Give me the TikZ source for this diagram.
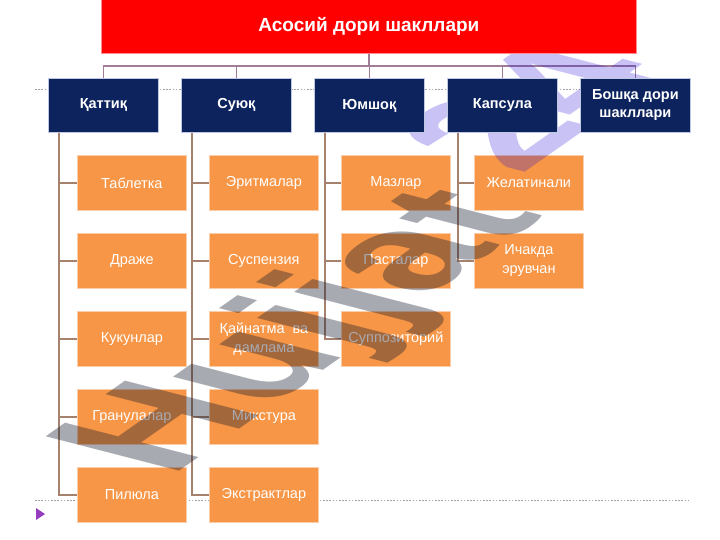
\documentclass[tikz,border=0pt]{standalone}
\usepackage{fontspec}
\setmainfont{Liberation Sans}
\usetikzlibrary{backgrounds}
\pgfdeclarelayer{wmlayer}
\pgfdeclarelayer{front}
\pgfsetlayers{background,main,wmlayer,front}
\definecolor{titlered}{RGB}{255,0,0}
\definecolor{navybox}{RGB}{12,35,94}
\definecolor{navyedge}{RGB}{190,200,225}
\definecolor{orngbox}{RGB}{247,150,70}
\definecolor{orngedge}{RGB}{252,205,170}
\definecolor{mauveline}{RGB}{160,125,150}
\definecolor{brownline}{RGB}{165,130,110}
\definecolor{dotgray}{RGB}{160,160,170}
\definecolor{tripurple}{RGB}{150,60,190}
\definecolor{wmgray}{RGB}{20,25,45}
\definecolor{wmlav}{RGB}{35,11,215}
\begin{document}
\begin{tikzpicture}[x=1pt,y=-1pt,
  titlebox/.style={fill=titlered, draw=red!45, line width=0.8pt, text=white,
    font=\bfseries\fontsize{19}{22}\selectfont, minimum width=535pt, minimum height=54pt,
    inner sep=0pt, anchor=north west},
  catbox/.style={fill=navybox, draw=navyedge, line width=0.8pt, text=white,
    font=\bfseries\fontsize{14.5}{18}\selectfont, align=center, minimum width=110pt,
    minimum height=54pt, inner sep=0pt, anchor=north west},
  itembox/.style={fill=orngbox, draw=orngedge, line width=0.8pt, text=white,
    font=\fontsize{14.5}{19}\selectfont, align=center, minimum width=109pt,
    minimum height=55pt, inner sep=0pt, anchor=north west},
  conn/.style={draw=mauveline, line width=1.6pt},
  trunk/.style={draw=brownline, line width=1.6pt},
  dotline/.style={draw=dotgray, line width=0.7pt, dash pattern=on 1.6pt off 1.6pt},
  wmark/.style={font=\bfseries\fontsize{100}{100}\selectfont, inner sep=0pt, anchor=base west,
    cm={1.351,0.947,-1.94,0.5,(0,0)}}
]
\useasboundingbox (0,0) rectangle (720,540);

\begin{pgfonlayer}{front}
% title
\node[titlebox] (title) at (101,-1) {Асосий дори шакллари};
% categories
\node[catbox] (c1) at (48,78)  {Қаттиқ};
\node[catbox] (c2) at (181,78) {Суюқ};
\node[catbox] (c3) at (314,78) {Юмшоқ};
\node[catbox] (c4) at (447,78) {Капсула};
\node[catbox] (c5) at (580,78) {Бошқа дори\\шакллари};
\end{pgfonlayer}

% items column 1
\node[itembox] (i11) at (77,155) {Таблетка};
\node[itembox] (i12) at (77,233) {Драже};
\node[itembox] (i13) at (77,311) {Кукунлар};
\node[itembox] (i14) at (77,389) {Гранулалар};
\node[itembox] (i15) at (77,467) {Пилюла};
% column 2
\node[itembox] (i21) at (209,155) {Эритмалар};
\node[itembox] (i22) at (209,233) {Суспензия};
\node[itembox] (i23) at (209,311) {Қайнатма\ \ ва\\дамлама};
\node[itembox] (i24) at (209,389) {Микстура};
\node[itembox] (i25) at (209,467) {Экстрактлар};
% column 3
\node[itembox] (i31) at (341,155) {Мазлар};
\node[itembox] (i32) at (341,233) {Пасталар};
\node[itembox] (i33) at (341,311) {Суппозиторий};
% column 4
\node[itembox] (i41) at (474,155) {Желатинали};
\node[itembox] (i42) at (474,233) {Ичакда\\эрувчан};

\begin{scope}[on background layer]
  % dotted guide lines
  \coordinate (dl1) at (35,89);  \coordinate (dr1) at (688,89);
  \coordinate (dl2) at (35,500); \coordinate (dr2) at (688,500);
  \draw[dotline] (dl1) -- (dr1);
  \draw[dotline] (dl2) -- (dr2);
  % top connectors
  \coordinate (hb) at (0,66);
  \draw[conn] (title.south) -- (title.south |- hb);
  \draw[conn] (c1.north) -- (c1.north |- hb) -- (c5.north |- hb) -- (c5.north);
  \foreach \c in {c2,c3,c4} \draw[conn] (\c.north) -- (\c.north |- hb);
  % trunks
  \coordinate (t1) at ([xshift=11pt]c1.south west);
  \coordinate (t2) at ([xshift=11pt]c2.south west);
  \coordinate (t3) at ([xshift=11pt]c3.south west);
  \coordinate (t4) at ([xshift=11pt]c4.south west);
  \draw[trunk] (t1) |- (i15.west);
  \foreach \i in {i11,i12,i13,i14} \draw[trunk] (t1 |- \i.west) -- (\i.west);
  \draw[trunk] (t2) |- (i25.west);
  \foreach \i in {i21,i22,i23,i24} \draw[trunk] (t2 |- \i.west) -- (\i.west);
  \draw[trunk] (t3) |- (i33.west);
  \foreach \i in {i31,i32} \draw[trunk] (t3 |- \i.west) -- (\i.west);
  \draw[trunk] (t4) |- (i42.west);
  \draw[trunk] (t4 |- i41.west) -- (i41.west);
\end{scope}

% small marker triangle
\fill[tripurple] (36,508) -- (45,514) -- (36,520) -- cycle;

% watermark
\begin{pgfonlayer}{wmlayer}
  \node[wmark, text=wmgray, text opacity=0.37] (wm1) at (170,478) {Hujjat};
  \node[wmark, text=wmlav, text opacity=0.25] (wm2) at (520,176) {24};
\end{pgfonlayer}
\end{tikzpicture}
\end{document}
